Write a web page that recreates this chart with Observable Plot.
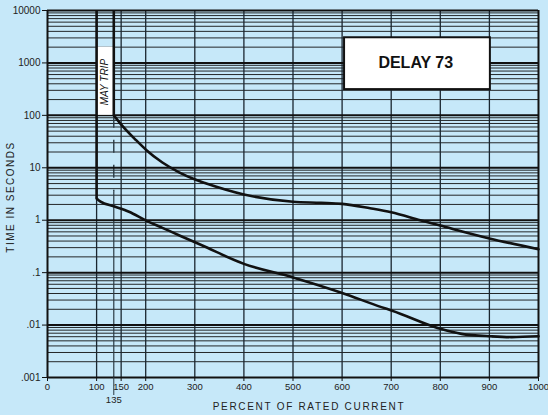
<!DOCTYPE html>
<html><head><meta charset="utf-8">
<script src="https://cdn.jsdelivr.net/npm/d3@7"></script>
<script src="https://cdn.jsdelivr.net/npm/@observablehq/plot@0.6"></script>
<style>
html,body{margin:0;padding:0;background:#c6e8f9;}
#chart{width:548px;height:415px;overflow:hidden;}
</style></head><body><div id="chart"></div>
<script>
// ---- data ----
const xTicks = [0, 100, 150, 200, 300, 400, 500, 600, 700, 800, 900, 1000];
const xTickExtra = [135];
const yTicks = [0.001, 0.01, 0.1, 1, 10, 100, 1000, 10000];
const yLabels = [".001", ".01", ".1", "1", "10", "100", "1000", "10000"];
const minorMultipliers = [2, 3, 4, 5, 6, 7, 8, 9];

// upper (maximum) curve, after the vertical trip line at 135%
const upperX = [135, 152, 180, 201, 234, 268, 302, 322, 400, 500, 557, 600, 657, 700, 759, 800, 900, 1000];
const upperY = [100, 63.8, 33.9, 21.9, 12.6, 8.2, 5.9, 5.07, 3.1, 2.25, 2.15, 2.05, 1.69, 1.42, 1.0, 0.79, 0.45, 0.28];

// lower (minimum) curve, after the vertical line at 100%
const lowerX = [100, 108, 135, 166, 201, 234, 271, 312, 400, 500, 600, 680, 702, 802, 843, 904, 945, 1000];
const lowerY = [2.6, 2.26, 1.84, 1.45, 0.98, 0.716, 0.5, 0.34, 0.147, 0.081, 0.041, 0.022, 0.0188, 0.0084, 0.0068, 0.0061, 0.0059, 0.0061];

// vertical parts of the curves
const tripX = [100, 135];
const tripTop = [10000, 10000];
const tripBottom = [2.6, 100];

// annotation boxes
const mayTripBox = [{x1: 100, x2: 135, y1: 100, y2: 2000, label: "MAY TRIP", lx: 117.5, ly: 431}];
const delayBox = [{x1: 605, x2: 902, y1: 310, y2: 3020, label: "DELAY 73", lx: 750, ly: 1000}];
const line135Split = 3.4;

const xTitle = "PERCENT OF RATED CURRENT";
const yTitle = "TIME IN SECONDS";

// ---- build ----
const minorLines = [];
for (const d of yTicks.slice(0, -1)) for (const m of minorMultipliers) minorLines.push(d * m);
const upper = upperX.map((x, i) => ({x, y: upperY[i]}));
const lower = lowerX.map((x, i) => ({x, y: lowerY[i]}));
const trips = tripX.map((x, i) => ({x, y1: tripTop[i], y2: tripBottom[i]}));
const yLabelOf = new Map(yTicks.map((v, i) => [v, yLabels[i]]));
const innerX = xTicks.filter(d => d > 0 && d < 1000);
const font = "'Liberation Sans', Arial, Helvetica, sans-serif";
const ink = "#111";

const chart = Plot.plot({
  width: 548,
  height: 415,
  marginLeft: 47,
  marginRight: 10,
  marginTop: 10,
  marginBottom: 38,
  style: {background: "#c6e8f9", fontFamily: font, color: "#222", overflow: "visible"},
  x: {domain: [0, 1000]},
  y: {type: "log", domain: [0.001, 10000]},
  marks: [
    Plot.ruleY(minorLines, {stroke: ink, strokeWidth: 0.9}),
    Plot.ruleX(innerX, {stroke: "#1a2630", strokeWidth: 1.3}),
    Plot.ruleX(xTickExtra, {y1: 0.001, y2: line135Split, stroke: "#2a3a44", strokeWidth: 1.2}),
    Plot.ruleX(xTickExtra, {y1: 100, y2: line135Split, stroke: "#2a3a44", strokeWidth: 1.4, strokeDasharray: "13,12"}),
    Plot.ruleY(yTicks, {stroke: ink, strokeWidth: 2}),
    Plot.ruleX([0, 1000], {stroke: ink, strokeWidth: 2}),
    Plot.rect(mayTripBox, {x1: "x1", x2: "x2", y1: "y1", y2: "y2", fill: "white"}),
    Plot.text(mayTripBox, {x: "lx", y: "ly", text: "label", rotate: -90, fontSize: 10, fontStyle: "italic", fill: "#111"}),
    Plot.rect(delayBox, {x1: "x1", x2: "x2", y1: "y1", y2: "y2", fill: "white", stroke: ink, strokeWidth: 2}),
    Plot.text(delayBox, {x: "lx", y: "ly", text: "label", fontSize: 16, fontWeight: "bold", fill: "#111"}),
    Plot.ruleX(trips, {x: "x", y1: "y1", y2: "y2", stroke: ink, strokeWidth: 2.6}),
    Plot.line(upper, {x: "x", y: "y", curve: "monotone-x", stroke: ink, strokeWidth: 2.6}),
    Plot.line(lower, {x: "x", y: "y", curve: "monotone-x", stroke: ink, strokeWidth: 2.6}),
    Plot.axisY(yTicks, {tickFormat: d => yLabelOf.get(d), tickSize: 5, tickPadding: 2, fontSize: 10, stroke: ink, fill: "#222"}),
    Plot.axisX(xTicks, {tickFormat: d => String(d), tickSize: 4, tickPadding: 2, fontSize: 9.5, stroke: ink, fill: "#222"}),
    Plot.axisX(xTickExtra, {tickFormat: d => String(d), tickSize: 18, tickPadding: 1, fontSize: 9.5, stroke: "#2a3a44", fill: "#222"}),
    Plot.text([xTitle], {frameAnchor: "bottom", textAnchor: "middle", lineAnchor: "middle", dx: 16, dy: 29, fontSize: 10, fill: "#222"}),
    Plot.text([yTitle], {frameAnchor: "left", textAnchor: "middle", lineAnchor: "middle", dx: -36.5, dy: 3, rotate: -90, fontSize: 10, fill: "#222"})
  ]
});
d3.select(chart).selectAll("text").filter(function() { return this.textContent === xTitle; }).style("letter-spacing", "1.7px");
d3.select(chart).selectAll("text").filter(function() { return this.textContent === yTitle; }).style("letter-spacing", "1.5px");
document.getElementById("chart").appendChild(chart);
</script>
</body></html>
